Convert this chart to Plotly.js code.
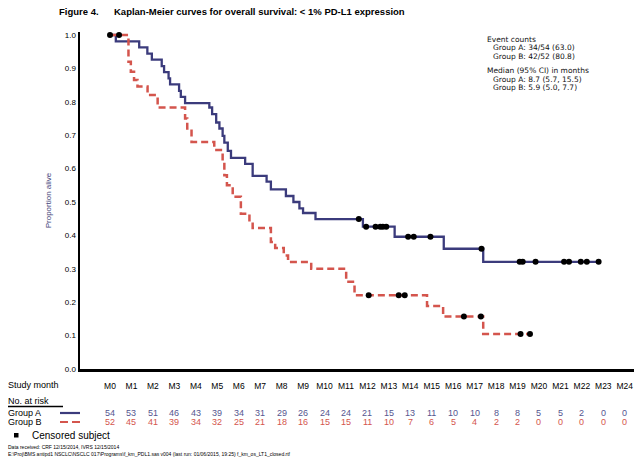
<!DOCTYPE html>
<html>
<head>
<meta charset="utf-8">
<script src="https://cdn.plot.ly/plotly-3.0.1.min.js"></script>
<style>html,body{margin:0;padding:0;background:#fff;}#chart{width:634px;height:461px;}</style>
</head>
<body>
<div id="chart"></div>
<script>
// ---- Data ----
const studyMonths = [0,1,2,3,4,5,6,7,8,9,10,11,12,13,14,15,16,17,18,19,20,21,22,23,24];
const monthLabels = studyMonths.map(m => 'M' + m);
const yTickValues = [0,0.1,0.2,0.3,0.4,0.5,0.6,0.7,0.8,0.9,1.0];
const yTickLabels = ['0.0','0.1','0.2','0.3','0.4','0.5','0.6','0.7','0.8','0.9','1.0'];

// Group A Kaplan-Meier step function (time in months, survival after the step)
const timesA = [0,0.27,1.36,1.74,1.95,2.41,2.52,2.73,2.8,3.22,3.3,3.5,4.63,4.76,4.95,5.1,5.25,5.33,5.49,5.64,6.3,6.65,7.3,7.5,8.2,8.55,8.83,9.0,9.58,11.79,13.27,15.56,17.4,22.78];
const survA  = [1.0,0.981,0.963,0.944,0.926,0.907,0.889,0.870,0.852,0.833,0.815,0.796,0.783,0.763,0.738,0.72,0.698,0.678,0.653,0.632,0.614,0.578,0.561,0.538,0.518,0.5,0.481,0.467,0.449,0.426,0.396,0.36,0.321,0.321];
// Group B Kaplan-Meier step function
const timesB = [0,0.86,0.97,1.12,1.28,1.75,2.22,3.5,3.6,3.8,4.86,5.25,5.33,5.45,5.72,6.1,6.5,6.65,7.5,7.7,8.1,8.3,9.38,11.01,11.4,14.78,15.53,17.4,19.58];
const survB  = [1.0,0.92,0.89,0.865,0.846,0.82,0.783,0.75,0.72,0.68,0.656,0.62,0.58,0.55,0.516,0.465,0.44,0.422,0.38,0.362,0.34,0.32,0.30,0.261,0.221,0.189,0.157,0.105,0.105];

// Censoring times
const censorA = [0,11.6,11.94,12.38,12.6,12.72,12.88,13.9,14.16,14.94,17.32,19.1,19.24,19.84,21.17,21.4,21.95,22.23,22.78];
const censorB = [0.42,12.06,13.46,13.74,16.5,17.29,19.14,19.58];

// Numbers at risk
const atRiskA = [54,53,51,46,43,39,34,31,29,26,24,24,21,15,13,11,10,10,8,8,5,5,2,0,0];
const atRiskB = [52,45,41,39,34,32,25,21,18,16,15,15,11,10,7,6,5,4,2,2,0,0,0,0,0];

const legendLines = [
  {text:'Event counts', indent:0},
  {text:'Group A: 34/54 (63.0)', indent:1},
  {text:'Group B: 42/52 (80.8)', indent:1},
  {text:'Median (95% CI) in months', indent:0},
  {text:'Group A: 8.7 (5.7, 15.5)', indent:1},
  {text:'Group B: 5.9 (5.0, 7.7)', indent:1}
];

// ---- Helpers ----
function survAt(times, surv, t){
  let v = surv[0];
  for (let i = 0; i < times.length; i++){ if (times[i] <= t) v = surv[i]; }
  return v;
}
const FONT = 'Liberation Sans, Arial, sans-serif';
const WIDE = 'DejaVu Sans, Liberation Sans, sans-serif';
const BLUE = '#3b3b7c';
const RED = '#d4554d';
const L = 80, R = 634, T = 32, B = 369;
const px = x => (x - L) / (R - L);
const py = y => (B - y) / (B - T);

const traces = [
  {x: timesA, y: survA, mode:'lines', line:{shape:'hv', color:BLUE, width:2.3}, hoverinfo:'skip', showlegend:false},
  {x: timesB, y: survB, mode:'lines', line:{shape:'hv', color:RED, width:2.5, dash:'7px,4px'}, hoverinfo:'skip', showlegend:false},
  {x: censorA, y: censorA.map(t => survAt(timesA, survA, t)), mode:'markers', marker:{color:'#000', size:6}, cliponaxis:false, hoverinfo:'skip', showlegend:false},
  {x: censorB, y: censorB.map(t => survAt(timesB, survB, t)), mode:'markers', marker:{color:'#000', size:6}, cliponaxis:false, hoverinfo:'skip', showlegend:false}
];

const ann = [];
function txt(text, x, y, font){
  ann.push({text:text, x:px(x), y:py(y), xref:'paper', yref:'paper', showarrow:false, borderpad:0,
    xanchor:'left', yanchor:'middle', font:font});
}
txt('<b>Figure 4.</b>', 58, 12, {family:FONT, size:9.5, color:'#000'});
const legendY = [39.5, 48, 56.5, 70.5, 79, 87.5];
legendLines.forEach((l, i) => txt(l.text, l.indent ? 492 : 486, legendY[i], {family:WIDE, size:7.5, color:'#111'}));
txt('Study month', 7, 385, {family:FONT, size:9, color:'#000'});
txt('No. at risk', 7, 401, {family:FONT, size:9, color:'#000'});
txt('Group A', 7, 413, {family:FONT, size:9, color:'#000'});
txt('Group B', 7, 421.5, {family:FONT, size:9, color:'#000'});
txt('Censored subject', 31, 435.5, {family:FONT, size:10, color:'#000'});
txt('Data received: CRF 12/15/2014, IVRS 12/15/2014', 7, 447, {family:FONT, size:5, color:'#000'});
txt('E:\\Proj\\BMS antipd1 NSCLC\\NSCLC 017\\Programs\\f_km_PDL1.sas v004 (last run: 01/06/2015, 19:25) f_km_os_LT1_closed.rtf', 7, 453.5, {family:FONT, size:5, color:'#000'});

studyMonths.forEach((m, i) => {
  ann.push({text:String(atRiskA[i]), x:m, y:py(413.3), xref:'x', yref:'paper', showarrow:false, borderpad:0, xanchor:'center', yanchor:'middle', font:{family:FONT, size:9, color:'#55558f'}});
  ann.push({text:String(atRiskB[i]), x:m, y:py(421.7), xref:'x', yref:'paper', showarrow:false, borderpad:0, xanchor:'center', yanchor:'middle', font:{family:FONT, size:9, color:RED}});
});

const shapes = [
  {type:'line', xref:'paper', yref:'paper', x0:px(8), x1:px(63), y0:py(406.5), y1:py(406.5), line:{color:'#000', width:1.3}},
  {type:'line', xref:'paper', yref:'paper', x0:px(60), x1:px(80), y0:py(413), y1:py(413), line:{color:BLUE, width:2.2}},
  {type:'line', xref:'paper', yref:'paper', x0:px(60), x1:px(80), y0:py(422), y1:py(422), line:{color:RED, width:2.2, dash:'8px,4px'}},
  {type:'rect', xref:'paper', yref:'paper', x0:px(14), x1:px(18.5), y0:py(437.5), y1:py(433), line:{width:0}, fillcolor:'#000'}
];

const layout = {
  width:634, height:461,
  margin:{l:L, r:634-R, t:T, b:461-B},
  paper_bgcolor:'#fff', plot_bgcolor:'#fff',
  title:{text:'<b>Kaplan-Meier curves for overall survival: &lt; 1% PD-L1 expression</b>', x:114/634, xanchor:'left', xref:'container', y:1-12/461, yanchor:'middle', font:{family:FONT, size:9.5, color:'#000'}},
  xaxis:{range:[-1.4, 24.43], showline:true, linecolor:'#000', linewidth:2.5, tickvals:studyMonths, ticktext:monthLabels,
    ticks:'', tickfont:{family:FONT, size:8.5, color:'#000'}, ticklabelstandoff:7, showgrid:false, zeroline:false, fixedrange:true},
  yaxis:{range:[0, 1.009], showline:true, linecolor:'#000', linewidth:2.5, tickvals:yTickValues, ticktext:yTickLabels,
    ticks:'', tickfont:{family:FONT, size:8, color:'#000'}, showgrid:false, zeroline:false, fixedrange:true,
    title:{text:'Proportion alive', font:{family:FONT, size:8, color:'#45457a'}, standoff:12}},
  annotations:ann,
  shapes:shapes,
  showlegend:false
};

Plotly.newPlot('chart', traces, layout, {displayModeBar:false, staticPlot:true});
</script>
</body>
</html>
